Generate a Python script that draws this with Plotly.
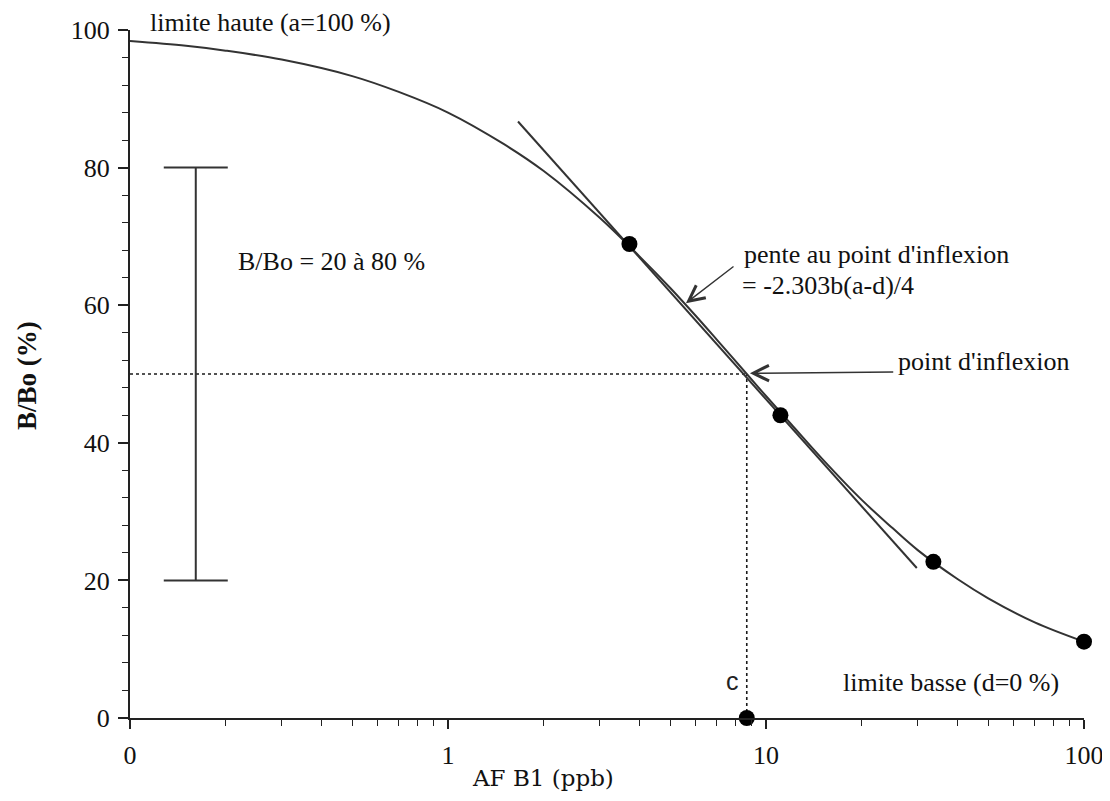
import numpy as np
import plotly.graph_objects as go

# ---- data ----
curve_x = [0.1, 0.15, 0.2, 0.3, 0.5, 0.7, 1, 1.5, 2, 3, 4, 5, 6, 7, 8.7, 10, 12, 15, 20, 25, 30, 40, 50, 70, 100]
curve_y = [98.4, 97.7, 97.0, 95.7, 93.3, 91.0, 88.0, 83.4, 79.5, 72.7, 67.1, 62.5, 58.5, 55.0, 50.0, 46.8, 42.7, 37.7, 31.7, 27.6, 24.4, 20.2, 17.4, 13.9, 11.1]

pts_x = [3.72, 11.1, 33.6, 100]
pts_y = [68.9, 44.0, 22.7, 11.1]

c_x = [8.7]
c_y = [0]
inflex_y = 50

tan_x = [1.66, 29.8]
tan_y = [86.7, 21.8]

range_x = [0.161]
range_mid = [50]
range_half = [30]

x_tickvals = [0.1, 1, 10, 100]
x_ticktext = ["0", "1", "10", "100"]
x_minor = [m * d for d in (0.1, 1, 10) for m in range(2, 10)]
y_tickvals = [0, 20, 40, 60, 80, 100]

INK = "#1a1a1a"
SERIF = "Liberation Serif"

fig = go.Figure()

# dotted guides to the inflection point
fig.add_trace(go.Scatter(x=[x_tickvals[0], c_x[0]], y=[inflex_y, inflex_y], mode="lines",
                         line=dict(color=INK, width=1.6, dash="dot"), showlegend=False))
fig.add_trace(go.Scatter(x=[c_x[0], c_x[0]], y=[c_y[0], inflex_y], mode="lines",
                         line=dict(color=INK, width=1.6, dash="dot"), showlegend=False))

# range bar 20-80 %
fig.add_trace(go.Scatter(x=range_x, y=range_mid, mode="markers",
                         marker=dict(size=1, color="rgba(0,0,0,0)"),
                         error_y=dict(type="data", array=range_half, visible=True,
                                      color="#333", thickness=2, width=32),
                         showlegend=False))

# tangent
fig.add_trace(go.Scatter(x=tan_x, y=tan_y, mode="lines",
                         line=dict(color="#333", width=2), showlegend=False))

# sigmoid curve
fig.add_trace(go.Scatter(x=curve_x, y=curve_y, mode="lines", line_shape="spline",
                         line=dict(color="#333", width=2), showlegend=False))

# points
fig.add_trace(go.Scatter(x=pts_x + c_x, y=pts_y + c_y, mode="markers", cliponaxis=False,
                         marker=dict(size=16, color="black"), showlegend=False))

lg = np.log10
ann_font = dict(family=SERIF, size=26, color="#111")
annotations = [
    dict(x=lg(0.215), y=66.3, text="B/Bo = 20 à 80 %", xanchor="left"),
    dict(x=lg(8.40), y=67.4, text="pente au point d'inflexion", xanchor="left"),
    dict(x=lg(8.28), y=62.9, text="= -2.303b(a-d)/4", xanchor="left"),
    dict(x=lg(25.6), y=51.8, text="point d'inflexion", xanchor="left"),
    dict(x=lg(17.2), y=5.1, text="limite basse (d=0 %)", xanchor="left"),
]
for a in annotations:
    fig.add_annotation(xref="x", yref="y", showarrow=False, yanchor="middle",
                       font=ann_font, **a)

fig.add_annotation(xref="paper", yref="paper", x=0.0189, y=1.0116, text="limite haute (a=100 %)",
                   xanchor="left", yanchor="middle", showarrow=False, font=ann_font)

fig.add_annotation(xref="x", yref="y", x=lg(7.87), y=5.4, text="c", showarrow=False,
                   font=dict(family="Liberation Sans", size=25, color="#222"))

# arrows
fig.add_annotation(xref="x", yref="y", axref="x", ayref="y",
                   x=lg(5.6), y=60.3, ax=lg(7.99), ay=65.8, text="",
                   showarrow=True, arrowhead=5, arrowsize=2.2, arrowwidth=1.4, arrowcolor="#333")
fig.add_annotation(xref="x", yref="y", axref="x", ayref="y",
                   x=lg(8.9), y=50.1, ax=lg(25.4), ay=50.3, text="",
                   showarrow=True, arrowhead=5, arrowsize=2.2, arrowwidth=1.4, arrowcolor="#333")

# axis titles
fig.add_annotation(xref="paper", yref="paper", x=0.4329, y=-0.0872, text="AF B1 (ppb)", showarrow=False,
                   xanchor="center", yanchor="middle",
                   font=dict(family="DejaVu Serif", size=23, color="#111"))
fig.add_annotation(xref="paper", yref="paper", x=-0.108, y=0.4985, text="<b>B/Bo (%)</b>", showarrow=False,
                   xanchor="center", yanchor="middle",
                   textangle=-90, font=dict(family=SERIF, size=27, color="#111"))

fig.update_layout(
    width=1110, height=801,
    margin=dict(l=122, r=34, t=22, b=91, autoexpand=False),
    paper_bgcolor="white", plot_bgcolor="white",
    showlegend=False,
    font=dict(family=SERIF, color="#111"),
)
fig.update_xaxes(
    type="log", range=[-1, 2], showgrid=False, zeroline=False, automargin=False,
    showline=True, linecolor="#222", linewidth=2,
    tickmode="array", tickvals=x_tickvals, ticktext=x_ticktext,
    ticks="outside", ticklen=9, tickwidth=1.6, tickcolor="#222",
    tickfont=dict(family=SERIF, size=26, color="#111"), ticklabelstandoff=4,
    minor=dict(tickmode="array", tickvals=x_minor, ticks="outside", ticklen=6,
               tickwidth=1.4, tickcolor="#222", showgrid=False),
)
fig.update_yaxes(
    range=[0, 100], showgrid=False, zeroline=False, automargin=False,
    showline=True, linecolor="#222", linewidth=2,
    tickmode="array", tickvals=y_tickvals,
    ticks="outside", ticklen=10, tickwidth=1.6, tickcolor="#222",
    tickfont=dict(family=SERIF, size=26, color="#111"), ticklabelstandoff=3,
    minor=dict(dtick=4, ticks="outside", ticklen=6, tickwidth=1.4, tickcolor="#222", showgrid=False),
)

fig.write_html("out.html")
